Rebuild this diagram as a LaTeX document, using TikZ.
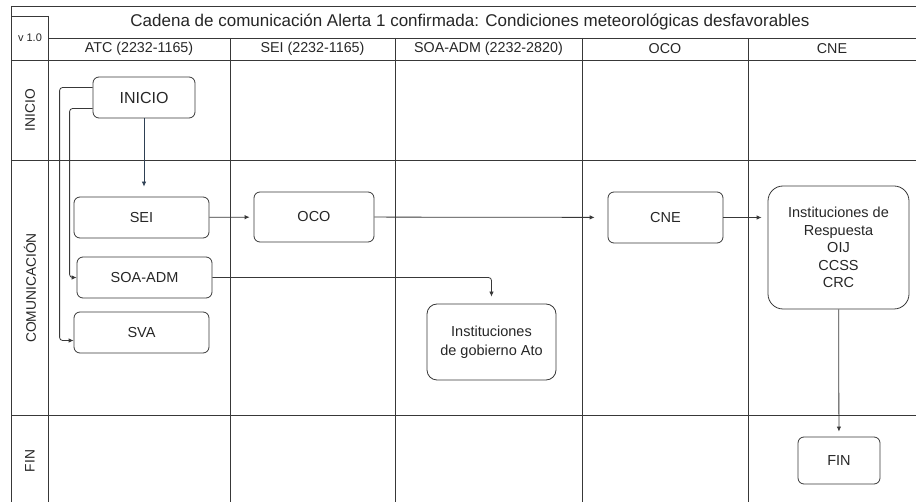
\documentclass[tikz,border=0pt]{standalone}
\usepackage{fontspec}
\setmainfont{Liberation Sans}
\usepackage{tikz}
\usetikzlibrary{arrows.meta}
\definecolor{linec}{rgb}{0.22,0.22,0.22}
\definecolor{arrowblue}{rgb}{0.18,0.25,0.33}
\begin{document}
\begin{tikzpicture}[x=1pt,y=-1pt,line join=round]
\tikzstyle{box} = [draw=linec,line width=0.8pt,rounded corners=6pt,align=center,inner sep=0pt,text=black!85,font=\fontsize{14.5}{17.5}\selectfont]
\tikzstyle{head} = [inner sep=0pt,text=black!85,font=\fontsize{14.3}{16}\selectfont]
\tikzstyle{lane} = [inner sep=0pt,rotate=90,text=black!85,font=\fontsize{13.8}{15}\selectfont]
\tikzstyle{arr} = [draw=linec,line width=0.8pt,rounded corners=3pt,-{Latex[length=5pt,width=4.5pt]}]
\useasboundingbox (0,0) rectangle (916,502);
\draw[linec,line width=0.8pt] (11,6)--(916,6) (11,6)--(11,502) (11,16)--(48,16) (48,16)--(48,502)
      (48,38)--(916,38) (11,60)--(916,60) (11,160)--(916,160) (11,415)--(916,415)
      (230,38)--(230,502) (395,38)--(395,502) (582,38)--(582,502) (748,38)--(748,502);
\node[inner sep=0pt,text=black!85,font=\fontsize{17}{19}\selectfont] (title) at (470,22) {Cadena de comunicación Alerta 1 confirmada: Condiciones meteorológicas desfavorables};
\node[inner sep=0pt,text=black!85,font=\fontsize{11}{12}\selectfont] (version) at (30,38) {v 1.0};
\path (139,49) node[head] (atc) {ATC (2232-1165)}
      (312.5,49) node[head] (seih) {SEI (2232-1165)}
      (488.5,49) node[head] (soah) {SOA-ADM (2232-2820)}
      (665,49) node[head] (ocoh) {OCO}
      (832,49) node[head] (cneh) {CNE};
\path (30,110) node[lane] (linicio) {INICIO}
      (30,288) node[lane] (lcom) {COMUNICACIÓN}
      (30,461) node[lane] (lfin) {FIN};
\node[box,minimum width=102pt,minimum height=41pt,font=\fontsize{16}{18}\selectfont] (inicio) at (144,97.5) {INICIO};
\node[box,minimum width=135pt,minimum height=41pt] (sei) at (141.5,217.5) {SEI};
\node[box,minimum width=135pt,minimum height=41pt] (soa) at (144.5,277.5) {SOA-ADM};
\node[box,minimum width=135pt,minimum height=41pt] (sva) at (141.5,332.5) {SVA};
\node[box,minimum width=120pt,minimum height=50pt] (oco) at (314,217) {OCO};
\node[box,minimum width=115pt,minimum height=51pt] (cne) at (665.5,217.5) {CNE};
\node[box,rounded corners=15pt,minimum width=141pt,minimum height=123pt] (resp) at (838.5,247.5) {Instituciones de\\Respuesta\\OIJ\\CCSS\\CRC};
\node[box,rounded corners=10pt,minimum width=129pt,minimum height=76pt,font=\fontsize{14.5}{19}\selectfont] (gob) at (491.5,342) {Instituciones\\de gobierno Ato};
\node[box,minimum width=82pt,minimum height=47pt] (fin) at (839,460.5) {FIN};
\draw[arr,draw=arrowblue,shorten >=10pt] (inicio.south) -- (inicio.south |- sei.north);
\draw[arr] ([yshift=10pt]inicio.west) -- ++(-33,0) |- ([yshift=-8pt]sva.west);
\draw[arr] ([yshift=-11pt]inicio.west) -- ++(-23,0) |- (soa.west);
\draw[arr,shorten >=4pt] (sei) -- (oco);
\draw[arr,shorten >=13pt] (oco) -- (cne);
\draw[arr,shorten >=6pt] (cne.east) -- (resp.west |- cne.east);
\draw[arr,shorten >=7pt] (soa.east) -| (gob.north);
\draw[arr,shorten >=5pt] (resp) -- (fin);
\end{tikzpicture}
\end{document}
